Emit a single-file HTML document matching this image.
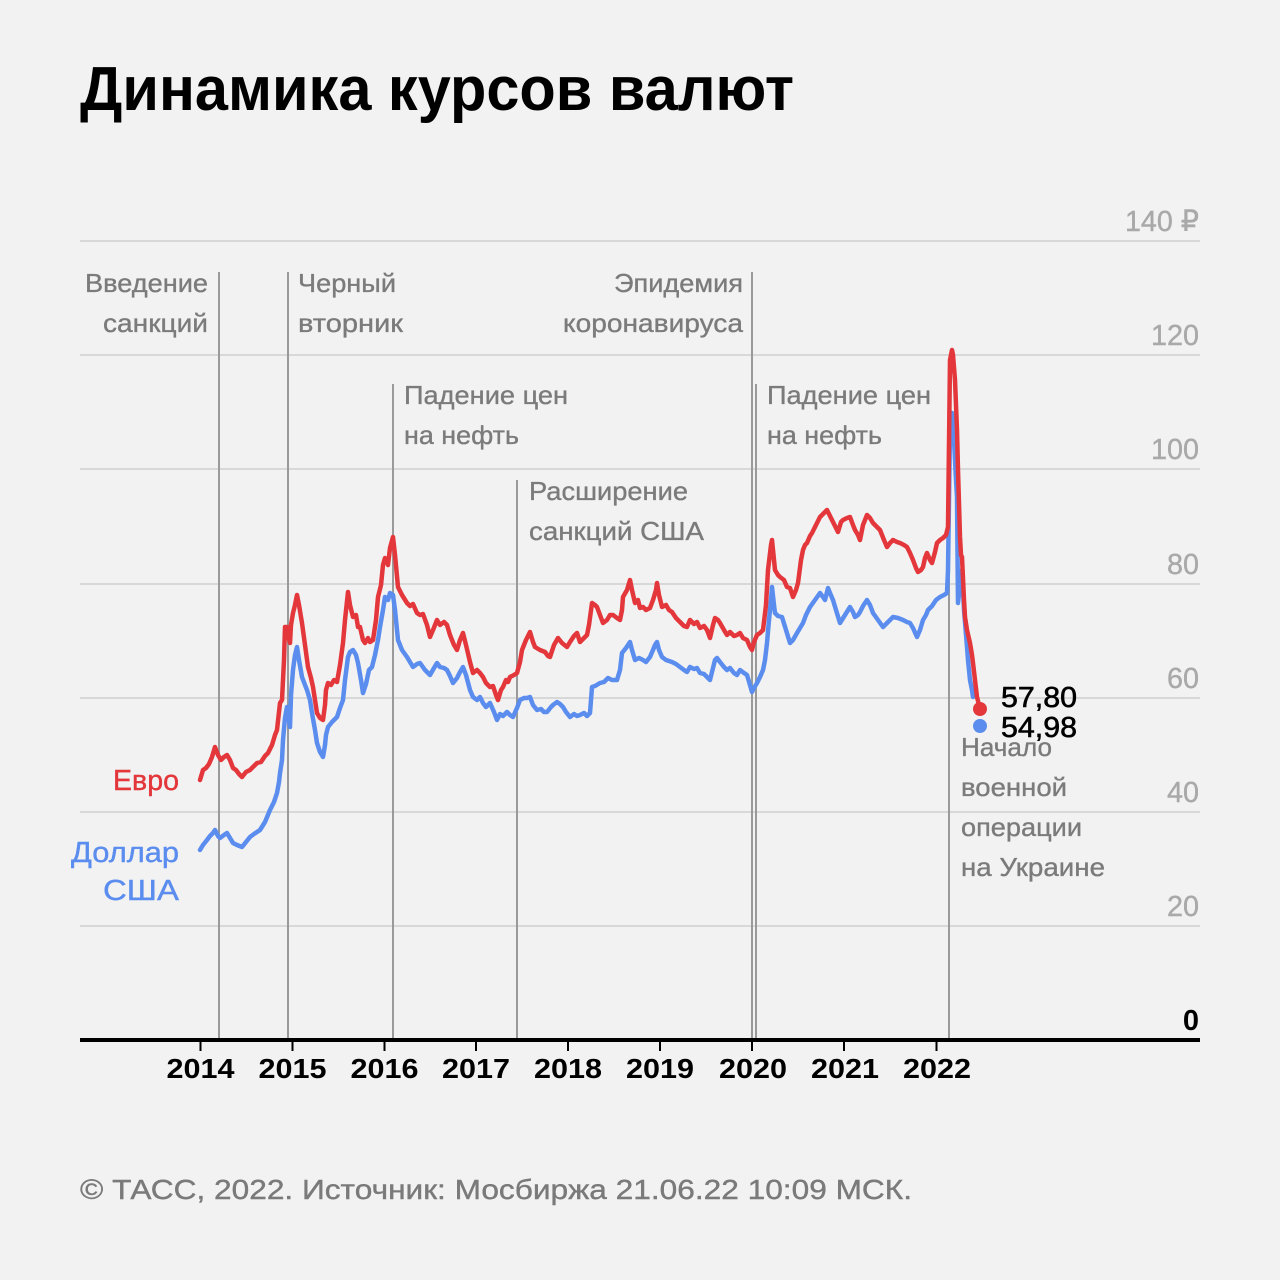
<!DOCTYPE html>
<html>
<head>
<meta charset="utf-8">
<style>
html,body{margin:0;padding:0;background:#f2f2f2;}
svg{display:block;}
text{font-family:"Liberation Sans","DejaVu Sans",sans-serif;}
.ann{font-size:26px;fill:#7b7b7b;stroke:#7b7b7b;stroke-width:0.35;}
.yl{font-size:29px;fill:#a9a9a9;stroke:#a9a9a9;stroke-width:0.4;}
.yr{font-size:28px;font-weight:bold;fill:#000;}
</style>
</head>
<body>
<svg width="1280" height="1280" viewBox="0 0 1280 1280" xmlns="http://www.w3.org/2000/svg">
<rect x="0" y="0" width="1280" height="1280" fill="#f2f2f2"/>

<!-- Title -->
<text x="80" y="110" font-size="62" font-weight="bold" fill="#000" textLength="714" lengthAdjust="spacingAndGlyphs">Динамика курсов валют</text>

<!-- Gridlines -->
<g stroke="#d8d8d8" stroke-width="2">
<line x1="80" y1="241" x2="1200" y2="241"/>
<line x1="80" y1="355" x2="1200" y2="355"/>
<line x1="80" y1="469" x2="1200" y2="469"/>
<line x1="80" y1="584" x2="1200" y2="584"/>
<line x1="80" y1="698" x2="1200" y2="698"/>
<line x1="80" y1="812" x2="1200" y2="812"/>
<line x1="80" y1="926" x2="1200" y2="926"/>
</g>

<!-- Y labels -->
<text class="yl" x="1199" y="231" text-anchor="end" textLength="74" lengthAdjust="spacingAndGlyphs">140 ₽</text>
<text class="yl" x="1199" y="345" text-anchor="end" textLength="48" lengthAdjust="spacingAndGlyphs">120</text>
<text class="yl" x="1199" y="459" text-anchor="end" textLength="48" lengthAdjust="spacingAndGlyphs">100</text>
<text class="yl" x="1199" y="574" text-anchor="end" textLength="32" lengthAdjust="spacingAndGlyphs">80</text>
<text class="yl" x="1199" y="688" text-anchor="end" textLength="32" lengthAdjust="spacingAndGlyphs">60</text>
<text class="yl" x="1199" y="802" text-anchor="end" textLength="32" lengthAdjust="spacingAndGlyphs">40</text>
<text class="yl" x="1199" y="916" text-anchor="end" textLength="32" lengthAdjust="spacingAndGlyphs">20</text>
<text x="1199" y="1030" text-anchor="end" font-size="29" font-weight="bold" fill="#000">0</text>

<!-- Event lines -->
<g stroke="#9a9a9a" stroke-width="2">
<line x1="219" y1="272" x2="219" y2="1040"/>
<line x1="288" y1="272" x2="288" y2="1040"/>
<line x1="393" y1="384" x2="393" y2="1040"/>
<line x1="517" y1="480" x2="517" y2="1040"/>
<line x1="752" y1="272" x2="752" y2="1040"/>
<line x1="756" y1="384" x2="756" y2="1040"/>
<line x1="949" y1="560" x2="949" y2="1040"/>
</g>

<!-- Annotations -->
<text class="ann" x="208" y="292" text-anchor="end" textLength="123" lengthAdjust="spacingAndGlyphs">Введение</text>
<text class="ann" x="208" y="332" text-anchor="end" textLength="105" lengthAdjust="spacingAndGlyphs">санкций</text>
<text class="ann" x="298" y="292" textLength="98" lengthAdjust="spacingAndGlyphs">Черный</text>
<text class="ann" x="298" y="332" textLength="105" lengthAdjust="spacingAndGlyphs">вторник</text>
<text class="ann" x="404" y="404" textLength="164" lengthAdjust="spacingAndGlyphs">Падение цен</text>
<text class="ann" x="404" y="444" textLength="115" lengthAdjust="spacingAndGlyphs">на нефть</text>
<text class="ann" x="529" y="500" textLength="159" lengthAdjust="spacingAndGlyphs">Расширение</text>
<text class="ann" x="529" y="540" textLength="175" lengthAdjust="spacingAndGlyphs">санкций США</text>
<text class="ann" x="743" y="292" text-anchor="end" textLength="129" lengthAdjust="spacingAndGlyphs">Эпидемия</text>
<text class="ann" x="743" y="332" text-anchor="end" textLength="180" lengthAdjust="spacingAndGlyphs">коронавируса</text>
<text class="ann" x="767" y="404" textLength="164" lengthAdjust="spacingAndGlyphs">Падение цен</text>
<text class="ann" x="767" y="444" textLength="115" lengthAdjust="spacingAndGlyphs">на нефть</text>
<text class="ann" x="961" y="756" textLength="91" lengthAdjust="spacingAndGlyphs">Начало</text>
<text class="ann" x="961" y="796" textLength="106" lengthAdjust="spacingAndGlyphs">военной</text>
<text class="ann" x="961" y="836" textLength="121" lengthAdjust="spacingAndGlyphs">операции</text>
<text class="ann" x="961" y="876" textLength="144" lengthAdjust="spacingAndGlyphs">на Украине</text>

<!-- Legend -->
<text x="179" y="790" text-anchor="end" font-size="29" fill="#e3373b" stroke="#e3373b" stroke-width="0.4" textLength="66" lengthAdjust="spacingAndGlyphs">Евро</text>
<text x="179" y="862" text-anchor="end" font-size="29" fill="#5b8def" stroke="#5b8def" stroke-width="0.4" textLength="108" lengthAdjust="spacingAndGlyphs">Доллар</text>
<text x="179" y="900" text-anchor="end" font-size="29" fill="#5b8def" stroke="#5b8def" stroke-width="0.4" textLength="76" lengthAdjust="spacingAndGlyphs">США</text>

<!-- USD series -->
<polyline fill="none" stroke="#5b8def" stroke-width="4.5" stroke-linejoin="round" stroke-linecap="round" points="200,850 203,845 207,840 210,836 213,833 215,830 218,836 220,838 224,835 227,833 230,838 233,843 237,845 242,847 246,842 250,837 254,834 257,832 260,830 265,822 270,810 274,802 277,793 279,782 280,773 282,760 283,740 285,718 287,707 288,712 290,727 291,695 293,670 295,655 297,647 299,660 302,677 305,685 307,690 310,700 312,713 315,730 317,743 320,752 323,757 325,745 326,735 328,727 332,722 337,717 340,708 343,700 345,680 348,657 350,652 353,650 356,655 358,663 361,680 363,693 366,684 369,670 372,667 375,655 378,640 380,627 383,610 385,597 388,600 390,593 393,595 395,610 398,640 402,650 407,657 410,662 413,667 417,664 420,663 425,670 430,675 434,668 437,663 440,667 444,668 447,670 450,676 453,683 457,678 460,672 463,667 466,675 470,690 473,697 477,700 480,697 483,703 486,707 490,703 494,712 497,720 500,714 503,716 507,712 510,715 513,717 517,708 520,700 524,698 527,698 530,697 533,705 537,710 541,709 544,712 547,712 551,707 553,705 557,702 560,704 563,707 566,712 570,717 574,714 577,716 580,715 584,713 587,716 590,713 592,687 595,686 600,683 604,682 608,678 612,680 617,680 620,670 622,653 626,648 630,642 632,650 635,660 639,658 643,660 646,662 650,657 653,650 655,645 657,642 659,650 662,657 666,660 669,661 672,662 676,664 680,667 684,670 687,672 690,667 694,669 697,668 700,673 704,674 707,677 710,680 713,668 715,660 717,658 720,662 724,667 727,670 730,668 734,673 737,675 740,670 744,673 747,675 750,685 752,692 754,688 757,683 760,677 763,670 765,660 767,643 769,620 771,600 772,587 774,605 775,613 778,616 782,617 786,630 790,643 793,640 797,633 800,628 803,623 806,615 810,607 815,600 820,593 823,597 825,600 828,588 830,593 833,600 836,610 840,623 845,615 850,607 853,612 855,617 858,615 860,612 863,606 867,600 870,605 873,613 878,620 883,627 888,622 893,617 898,618 903,620 907,622 910,623 913,628 917,637 920,630 923,620 926,615 928,610 932,606 936,600 940,597 944,595 947,593 948,570 950,430 952,413 954,440 956,480 957,497 958,603 960,585 962,570 964,610 967,647 968,660 970,680 972,690 973,697"/>

<!-- EUR series -->
<polyline fill="none" stroke="#e3373b" stroke-width="4.5" stroke-linejoin="round" stroke-linecap="round" points="200,780 203,770 206,768 209,764 212,757 215,747 218,755 221,760 224,757 227,755 230,760 233,768 236,770 239,774 242,777 246,772 250,770 254,766 257,763 261,762 265,756 268,753 272,745 275,735 277,730 279,712 280,703 282,700 284,660 285,627 287,627 288,635 290,643 291,625 293,613 295,605 297,595 299,605 302,623 305,645 308,667 311,678 313,687 315,700 317,713 320,718 323,720 325,705 326,690 328,683 331,685 334,680 337,682 340,665 343,643 345,620 348,592 350,605 353,617 356,615 358,627 360,627 363,640 365,643 368,638 370,642 373,640 376,620 378,597 381,585 383,565 385,558 388,565 390,548 393,537 395,555 398,587 402,595 407,603 410,606 413,604 417,613 420,615 423,614 427,625 430,637 433,630 437,620 440,625 444,622 447,625 450,635 454,645 457,650 460,640 463,633 466,645 470,662 473,673 477,670 480,673 483,677 486,683 490,687 493,686 496,695 498,700 501,690 503,687 506,680 508,682 510,677 514,675 517,673 520,662 522,650 526,640 530,632 533,642 535,647 540,650 545,652 548,656 550,657 554,645 558,638 562,643 567,647 570,642 574,636 577,633 580,642 584,638 587,635 589,625 592,603 595,605 597,607 600,615 603,623 607,620 610,615 613,615 617,618 620,620 622,610 623,597 627,590 630,580 632,590 635,603 638,600 640,608 643,607 646,610 650,608 653,600 656,590 657,583 659,595 662,607 666,605 669,610 672,612 676,618 680,622 684,626 687,627 690,620 694,624 697,622 700,628 704,626 707,630 710,638 713,625 715,618 718,620 720,623 724,630 727,635 730,632 734,636 737,635 740,633 743,638 747,640 750,647 752,650 754,642 757,635 760,633 763,630 766,605 768,570 771,545 772,540 774,560 775,570 778,575 780,577 784,580 787,587 790,588 793,597 796,590 798,583 801,560 803,550 805,545 807,543 810,536 812,533 816,525 820,517 823,514 827,510 830,516 832,520 835,526 838,532 841,522 843,520 847,518 850,517 853,525 855,530 858,535 860,540 863,525 867,515 870,518 873,523 877,527 880,530 884,540 887,547 890,543 893,540 897,542 900,543 904,545 907,547 910,553 913,560 916,568 918,572 921,570 923,567 925,558 927,553 930,560 932,563 935,552 937,543 940,540 943,538 946,535 948,527 950,360 952,350 953,355 955,380 957,430 958,470 960,537 961,555 962,557 964,600 965,617 967,630 970,643 972,655 973,663 975,680 977,697 979,705"/>

<!-- End dots -->
<circle cx="980" cy="726" r="7" fill="#5b8def"/>
<circle cx="980" cy="709" r="7" fill="#e3373b"/>
<text x="1001" y="707" font-size="29" fill="#000" stroke="#000" stroke-width="0.6" textLength="76" lengthAdjust="spacingAndGlyphs">57,80</text>
<text x="1001" y="737" font-size="29" fill="#000" stroke="#000" stroke-width="0.6" textLength="76" lengthAdjust="spacingAndGlyphs">54,98</text>

<!-- X axis -->
<line x1="80" y1="1040" x2="1200" y2="1040" stroke="#000" stroke-width="4"/>
<g stroke="#000" stroke-width="2">
<line x1="200.5" y1="1040" x2="200.5" y2="1051"/>
<line x1="292.5" y1="1040" x2="292.5" y2="1051"/>
<line x1="384.5" y1="1040" x2="384.5" y2="1051"/>
<line x1="476" y1="1040" x2="476" y2="1051"/>
<line x1="568" y1="1040" x2="568" y2="1051"/>
<line x1="660" y1="1040" x2="660" y2="1051"/>
<line x1="752" y1="1040" x2="752" y2="1051"/>
<line x1="844" y1="1040" x2="844" y2="1051"/>
<line x1="936.5" y1="1040" x2="936.5" y2="1051"/>
</g>
<text class="yr" x="200.5" y="1078" text-anchor="middle" textLength="68" lengthAdjust="spacingAndGlyphs">2014</text>
<text class="yr" x="292.5" y="1078" text-anchor="middle" textLength="68" lengthAdjust="spacingAndGlyphs">2015</text>
<text class="yr" x="384.5" y="1078" text-anchor="middle" textLength="68" lengthAdjust="spacingAndGlyphs">2016</text>
<text class="yr" x="476" y="1078" text-anchor="middle" textLength="68" lengthAdjust="spacingAndGlyphs">2017</text>
<text class="yr" x="568" y="1078" text-anchor="middle" textLength="68" lengthAdjust="spacingAndGlyphs">2018</text>
<text class="yr" x="660" y="1078" text-anchor="middle" textLength="68" lengthAdjust="spacingAndGlyphs">2019</text>
<text class="yr" x="753" y="1078" text-anchor="middle" textLength="68" lengthAdjust="spacingAndGlyphs">2020</text>
<text class="yr" x="845" y="1078" text-anchor="middle" textLength="68" lengthAdjust="spacingAndGlyphs">2021</text>
<text class="yr" x="937" y="1078" text-anchor="middle" textLength="68" lengthAdjust="spacingAndGlyphs">2022</text>

<!-- Footer -->
<text x="80" y="1199" font-size="28" fill="#7a7a7a" stroke="#7a7a7a" stroke-width="0.4" textLength="832" lengthAdjust="spacingAndGlyphs">© ТАСС, 2022. Источник: Мосбиржа 21.06.22 10:09 МСК.</text>
</svg>
</body>
</html>
